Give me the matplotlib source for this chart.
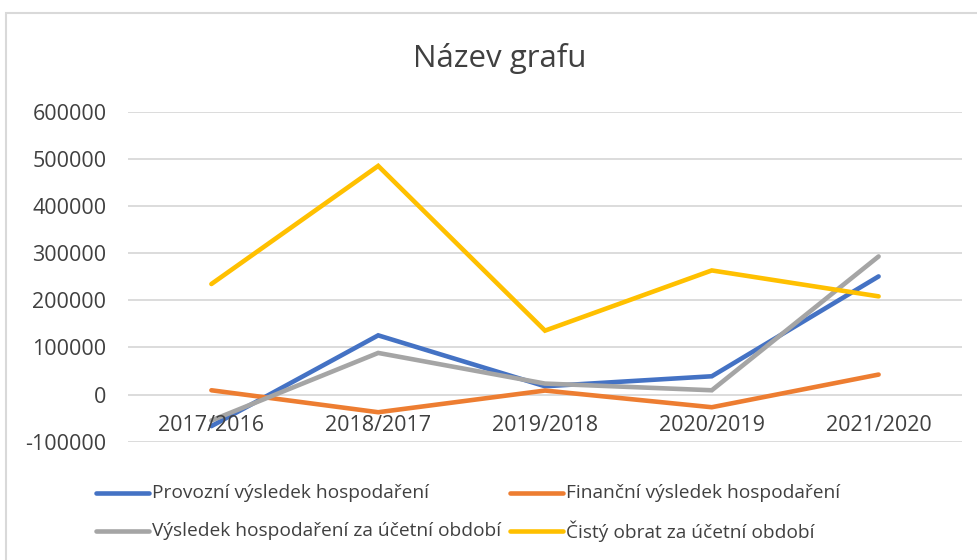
import matplotlib
matplotlib.use("Agg")
import matplotlib.pyplot as plt
from matplotlib.lines import Line2D
from matplotlib.patches import Rectangle

categories = ["2017/2016", "2018/2017", "2019/2018", "2020/2019", "2021/2020"]
provozni = [-67000, 125600, 17600, 38800, 250600]
financni = [9100, -37500, 8500, -26900, 42400]
vysledek = [-55000, 88300, 23300, 9100, 293000]
obrat = [234500, 485000, 135600, 263300, 208300]
series_names = ["Provozní výsledek hospodaření", "Finanční výsledek hospodaření",
                "Výsledek hospodaření za účetní období", "Čistý obrat za účetní období"]
series_colors = ["#4472C4", "#ED7D31", "#A5A5A5", "#FFC000"]
yticks = [-100000, 0, 100000, 200000, 300000, 400000, 500000, 600000]
title = "Název grafu"

FONT = ["Open Sans", "DejaVu Sans"]
TXT = "#404040"

W, H = 978, 560
fig = plt.figure(figsize=(W / 100, H / 100), dpi=100)
fig.patch.set_facecolor("white")

# chart border
fig.add_artist(Rectangle((6 / W, -0.01), 1.1, (H - 12.5) / H + 0.01, transform=fig.transFigure,
                         fill=False, edgecolor="#D9D9D9", linewidth=1.5))

ax = fig.add_axes([128 / W, (H - 441.7) / H, (962 - 128) / W, (441.7 - 111.7) / H])
ax.set_xlim(-0.5, len(categories) - 0.5)
ax.set_ylim(-100000, 600000)
ax.set_yticks(yticks)
ax.set_yticklabels([str(v) for v in yticks], fontfamily=FONT, fontsize=15.5, color=TXT)
ax.tick_params(axis="y", length=0, pad=15.5)
ax.set_xticks([])
for s in ax.spines.values():
    s.set_visible(False)
ax.grid(axis="y", color="#D9D9D9", linewidth=1.3)
ax.set_axisbelow(True)

x = list(range(len(categories)))
for vals, c in zip([provozni, financni, vysledek, obrat], series_colors):
    ax.plot(x, vals, color=c, linewidth=3.3, solid_capstyle="round", solid_joinstyle="miter")

for i, lab in enumerate(categories):
    ax.annotate(lab, (i, 0), xytext=(0, -15), textcoords="offset points", ha="center", va="top",
                fontfamily=FONT, fontsize=15.5, color=TXT)

fig.text(500 / W, 1 - 58 / H, title, ha="center", va="center", fontfamily=FONT, fontsize=22.5, color=TXT)

# legend
pos = [(96, 493), (510, 493), (96, 531), (510, 531)]
for (px, py), name, c in zip(pos, series_names, series_colors):
    fig.add_artist(Line2D([px / W, (px + 53) / W], [1 - py / H, 1 - py / H], transform=fig.transFigure,
                          color=c, linewidth=3.3, solid_capstyle="round"))
    fig.text((px + 56) / W, 1 - py / H, name, ha="left", va="center", fontfamily=FONT,
             fontsize=13.8, color=TXT)

fig.savefig("out.png", dpi=100)
